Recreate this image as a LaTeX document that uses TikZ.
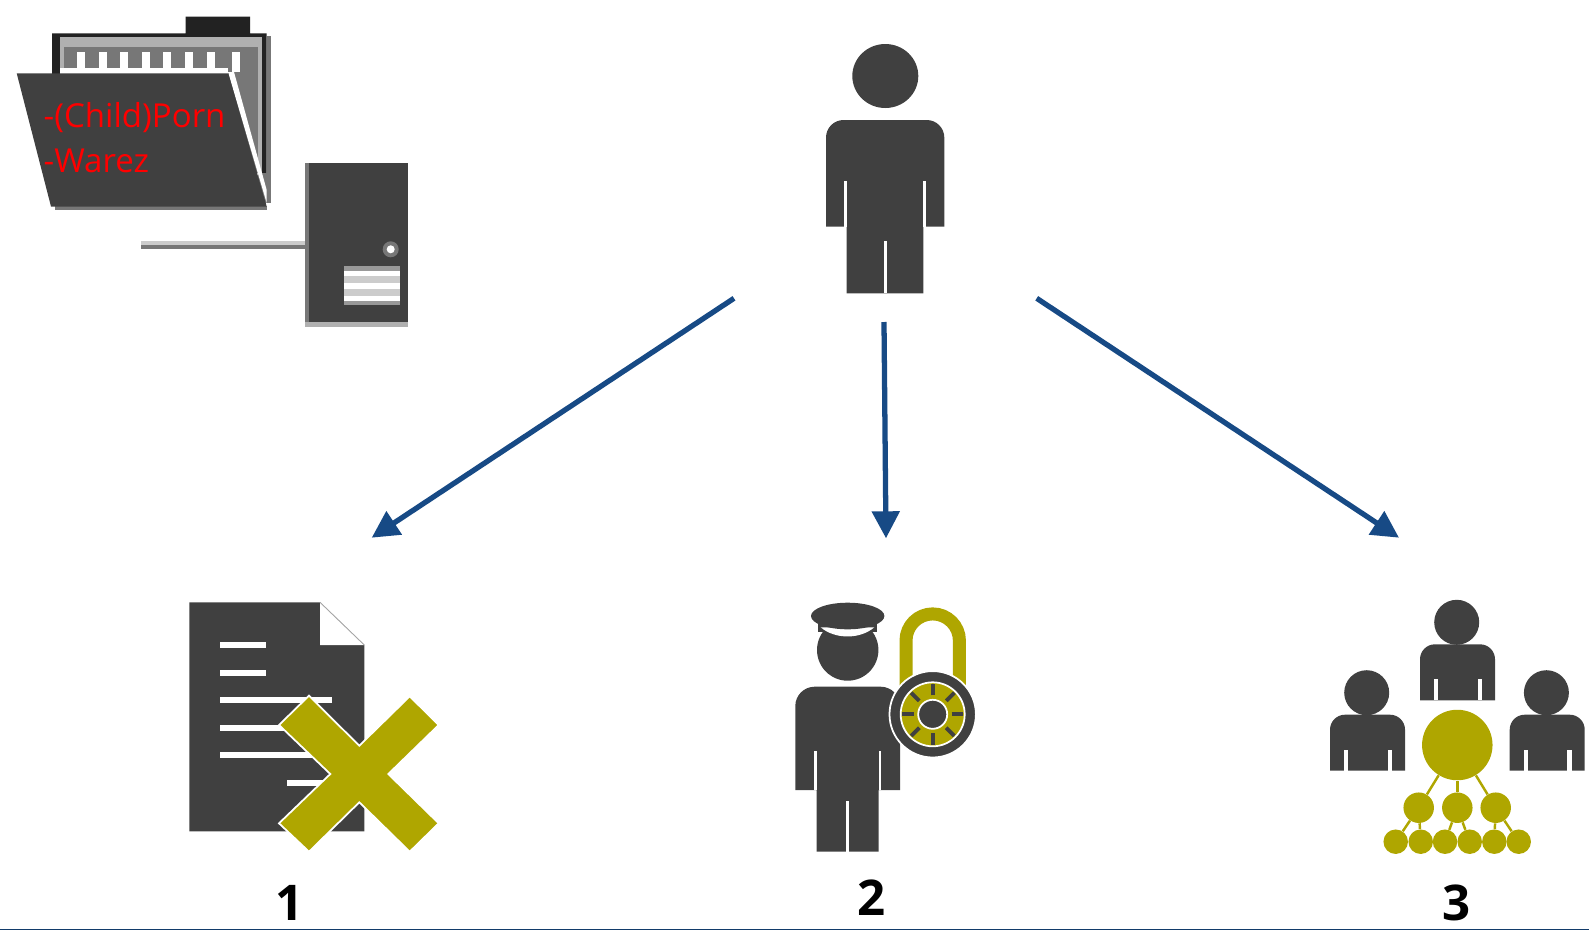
\documentclass[tikz,border=0pt]{standalone}
\usepackage{fontspec}
\setmainfont{Open Sans}
\usepackage{xcolor}
\usetikzlibrary{arrows.meta, positioning, calc}
\definecolor{icondark}{HTML}{404040}
\definecolor{iconolive}{HTML}{AFA600}
\definecolor{arrowblue}{HTML}{174A85}
\definecolor{folderblack}{HTML}{222222}
\definecolor{foldergray}{HTML}{777777}
\definecolor{folderlight}{HTML}{B0B0B0}
\tikzset{
    icon/.style={fill=icondark},
    olive/.style={fill=iconolive},
    slit/.style={fill=white},
    arrowline/.style={-{Triangle[length=0.54cm, width=0.54cm]}, line width=3pt, draw=arrowblue},
    treelink/.style={draw=iconolive, line width=1.4pt},
    treebig/.style={circle, fill=iconolive, minimum size=1.41cm, inner sep=0pt},
    treemid/.style={circle, fill=iconolive, minimum size=0.61cm, inner sep=0pt},
    treeleaf/.style={circle, fill=iconolive, minimum size=0.49cm, inner sep=0pt},
    filelabel/.style={anchor=base west, inner sep=0pt, text=red, font=\fontsize{18.8}{19}\selectfont},
    number/.style={anchor=base, inner sep=0pt, font=\fontsize{28}{28}\selectfont\bfseries}
}
\begin{document}
\begin{tikzpicture}[x=0.02cm, y=-0.02cm]
  \useasboundingbox (0,0) rectangle (1589,930);
  \fill[folderblack] (52,33.3) -- (185.7,33.3) -- (185.7,16.7) -- (250,16.7) -- (250,33.3) -- (266.7,33.3) -- (266.7,173) -- (52,173) -- cycle;
  \fill[foldergray] (266.7,36) rectangle (270.7,203);
  \fill[folderlight] (60,37.3) rectangle (261.7,173);
  \fill[foldergray] (63.5,46.7) rectangle (258,173);
  \fill[foldergray] (258,173) rectangle (270.7,203);
  \foreach \tx in {77.3,98.5,120,141.7,163.3,185,206.7,231.7}
    \fill[white] (\tx,51.7) rectangle ++(8,20);
  \fill[white] (60,68.3) rectangle (228,75);
  \fill[white] (228,72) -- (234,72) -- (266.7,190) -- (266.7,203) -- cycle;
  \fill[foldergray] (55,206) rectangle (266.7,210);
  \fill[icon] (16.7,73.3) -- (228.3,73.3) -- (266.7,206.5) -- (51,206.5) -- cycle;
  \node[filelabel] (porn) at (43.3,127.3) {-(Child)Porn};
  \node[filelabel] (warez) at (43.3,172.7) {-Warez};

  \node[rectangle, fill=folderlight, minimum width=2.06cm, minimum height=3.27cm, inner sep=0pt] (tower) at (356.8,245) {};
  \fill[foldergray] (305,163.3) rectangle (309.3,321.7);
  \fill[icon] (309.3,163.3) rectangle (408.3,321.7);
  \coordinate (wire) at (141,245);
  \draw[line width=2.2pt, draw=foldergray] ($(wire)+(0,2)$) -- ($(tower.west)+(0,2)$);
  \draw[line width=2pt, draw=black!20] ($(wire)+(0,-2)$) -- ($(tower.west)+(0,-2)$);
  \fill[foldergray] (390.7,249.3) circle (8);
  \fill[white] (390.7,249.3) circle (4);
  \fill[black!40] (344,266) rectangle (400,305);
  \fill[black!20] (344,275) rectangle (400,301);
  \foreach \ty in {270.7,283,295.5}
    \fill[white] (344,\ty) rectangle (400,\ty+5.5);

  \fill[icon] (885.3,76) ellipse (33 and 32);
  \fill[icon, rounded corners=10pt] (826,226.7) -- (826,120) -- (944.3,120) [sharp corners] -- (944.3,226.7) -- (923.3,226.7) -- (923.3,293.3) -- (846.7,293.3) -- (846.7,226.7) -- cycle;
  \fill[slit] (844.3,181) rectangle (846.7,226.7);
  \fill[slit] (923.3,181) rectangle (925.7,226.7);
  \fill[slit] (884.3,240.7) rectangle (886.7,293.3);

  \coordinate (userleft) at (734,298.3);
  \coordinate (usermid) at (884,322);
  \coordinate (userright) at (1036.7,298.3);
  \coordinate (goalone) at (371.7,537.7);
  \coordinate (goaltwo) at (886,538.3);
  \coordinate (goalthree) at (1399,537.7);
  \draw[arrowline] (userleft) -- (goalone);
  \draw[arrowline] (usermid) -- (goaltwo);
  \draw[arrowline] (userright) -- (goalthree);

  \fill[icon] (189.3,602.3) -- (320,602.3) -- (364.3,645) -- (364.3,831.3) -- (189.3,831.3) -- cycle;
  \fill[white] (320,602.3) -- (364.3,645) -- (320,645) -- cycle;
  \draw[draw=black!35, line width=0.5pt] (320,602.3) -- (364.3,645);
  \fill[slit] (220.3,642) rectangle (265.7,648);
  \fill[slit] (220.3,669.7) rectangle (265.7,675.7);
  \fill[slit] (220.3,697.3) rectangle (332.3,703.3);
  \fill[slit] (220.3,724.7) rectangle (310,730.7);
  \fill[slit] (220.3,752.3) rectangle (320,758.3);
  \fill[slit] (287,779.7) rectangle (335,785.7);
  \fill[olive, draw=white, line width=1pt] (309,695.7) -- (359.3,745.7) -- (409.7,696.3) -- (438.7,725) -- (388.3,774) -- (438.7,823.3) -- (409.7,851.7) -- (359.3,802.3) -- (309,851.7) -- (279,823.3) -- (330.3,774) -- (279,725) -- cycle;
  \node[number] (one) at (289.5,920) {1};

  \fill[icon] (847.7,650) circle (30.7);
  \fill[icon, rounded corners=11pt] (795.3,790) -- (795.3,686.7) -- (900,686.7) [sharp corners] -- (900,790) -- (878.7,790) -- (878.7,851.7) -- (816.7,851.7) -- (816.7,790) -- cycle;
  \fill[slit] (814.3,751) rectangle (816.7,790);
  \fill[slit] (878.7,751) rectangle (881,790);
  \fill[slit] (846.3,801) rectangle (849,851.7);
  \fill[icon] (818.3,620) rectangle (876.7,632);
  \fill[slit] (820.7,627.3) .. controls (835,639.5) and (860,639.5) .. (874.3,627.3) -- cycle;
  \fill[icon] (847.7,616) ellipse (36.7 and 13.3);
  \draw[draw=iconolive, line width=7.4pt] (906,692) -- (906,640.6) arc (180:360:26.7) -- (959.4,692);
  \fill[icon, draw=white, line width=1pt] (932.7,714.3) circle (43.2);
  \fill[olive, draw=white, line width=1pt] (932.7,714.3) circle (32);
  \foreach \ang in {0,45,...,315}
    \draw[draw=icondark, line width=2.2pt] (932.7,714.3) ++(\ang:19) -- ++(\ang:11.5);
  \fill[icon, draw=white, line width=1pt] (932.7,714.3) circle (14.5);
  \node[number] (two) at (871.7,915) {2};

  \foreach \px/\py in {0/0,-90/70.4,89.7/70.4} {
    \begin{scope}[shift={(\px,\py)}]
      \fill[icon] (1456.7,622.3) circle (22.5);
      \fill[icon, rounded corners=8.5pt] (1420,700.3) -- (1420,644.3) -- (1495,644.3) [sharp corners] -- (1495,700.3) -- cycle;
      \fill[slit] (1434,679.3) rectangle (1438.3,700.3);
      \fill[slit] (1477.7,679.3) rectangle (1482,700.3);
    \end{scope}
  }
  \node[treebig] (hub) at (1457.3,745) {};
  \node[treemid] (midleft) at (1418.7,807.7) {};
  \node[treemid] (midcentre) at (1457.3,807.7) {};
  \node[treemid] (midright) at (1495.7,807.7) {};
  \node[treeleaf] (leafa) at (1395.7,841.7) {};
  \node[treeleaf] (leafb) at (1420.7,841.7) {};
  \node[treeleaf] (leafc) at (1445,841.7) {};
  \node[treeleaf] (leafd) at (1469.7,841.7) {};
  \node[treeleaf] (leafe) at (1494.3,841.7) {};
  \node[treeleaf] (leaff) at (1518.7,841.7) {};
  \draw[treelink] (hub) -- (midleft);
  \draw[treelink] (hub) -- (midcentre);
  \draw[treelink] (hub) -- (midright);
  \draw[treelink] (midleft) -- (leafa);
  \draw[treelink] (midleft) -- (leafb);
  \draw[treelink] (midcentre) -- (leafc);
  \draw[treelink] (midcentre) -- (leafd);
  \draw[treelink] (midright) -- (leafe);
  \draw[treelink] (midright) -- (leaff);
  \node[number] (three) at (1456.5,920) {3};

  \coordinate (baseleft) at (0,929.3);
  \coordinate (baseright) at (1589,929.3);
  \draw[draw=arrowblue!80!black, line width=0.8pt] (baseleft) -- (baseright);
\end{tikzpicture}
\end{document}
